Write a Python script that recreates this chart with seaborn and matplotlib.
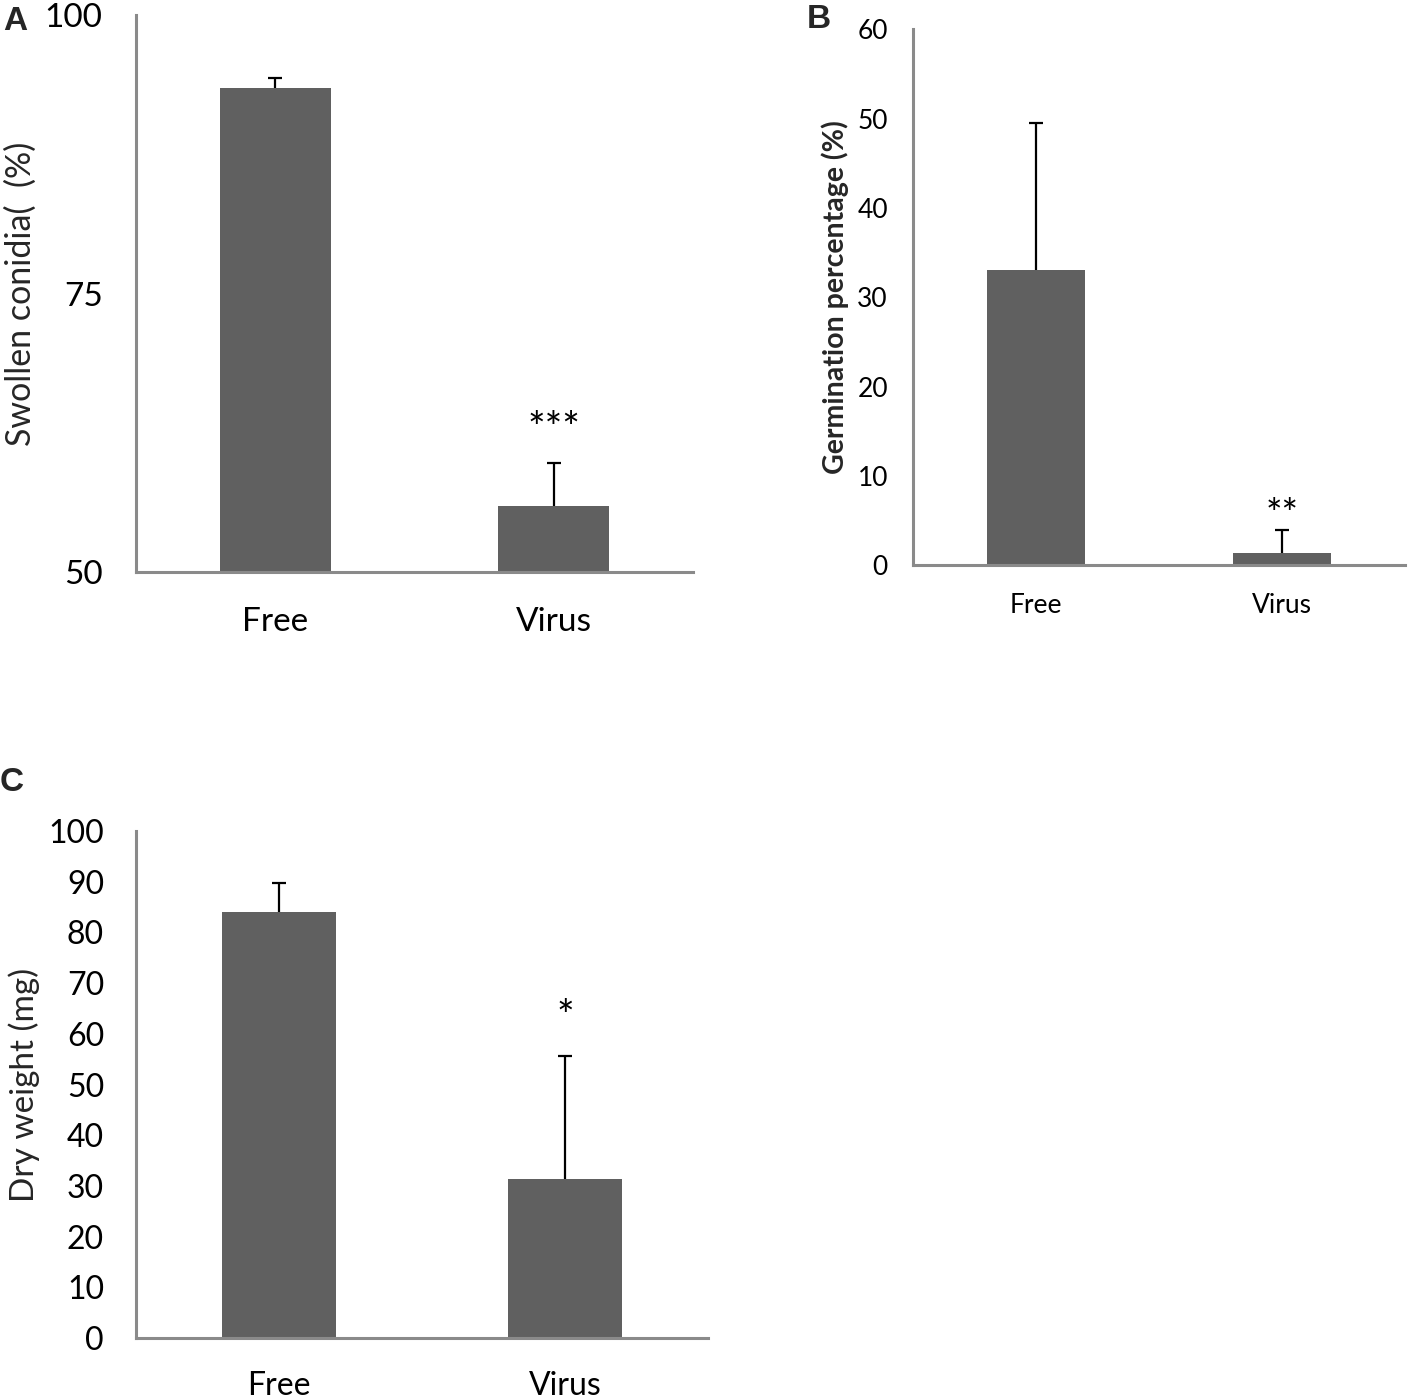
import numpy as np
import pandas as pd
import matplotlib
matplotlib.use("Agg")
import matplotlib.pyplot as plt
import seaborn as sns

# data
groups = ["Free", "Virus"]

swollen_mean = [93.5, 55.9]
swollen_err = [0.9, 3.9]
swollen_sig = ["", "***"]

germ_mean = [33.0, 1.4]
germ_err = [16.5, 2.5]
germ_sig = ["", "**"]

dry_mean = [84.0, 31.4]
dry_err = [5.7, 24.2]
dry_sig = ["", "*"]

sns.set_style("white")
plt.rcParams['font.family'] = ['Lato', 'DejaVu Sans']

bar_color = "#606060"
spine_color = "#8a8a8a"

fig = plt.figure(figsize=(14.08, 13.99), dpi=100)


def panel(rect, means, errs, sigs, ylim, yticks, ylabel, tick_fs, label_fs,
          label_bold, xtick_pad, ytick_pad, star_pad, star_fs):
    ax = fig.add_axes(rect)
    df = pd.DataFrame({"group": groups, "value": means})
    sns.barplot(data=df, x="group", y="value", color=bar_color, width=0.4,
                saturation=1, errorbar=None, ax=ax, linewidth=0)
    # upper-only error bars, hide the lower cap
    eb = ax.errorbar(range(len(groups)), means,
                     yerr=[np.zeros(len(errs)), errs],
                     fmt="none", ecolor="black", elinewidth=1.6, capsize=5,
                     capthick=1.6, zorder=3)
    eb[1][0].set_visible(False)
    for i, s in enumerate(sigs):
        if s:
            ax.text(i, means[i] + errs[i] + star_pad, s, ha="center",
                    va="center", fontsize=star_fs, color="black")
    ax.set_xlim(-0.5, 1.5)
    ax.set_ylim(*ylim)
    ax.set_yticks(yticks)
    ax.set_xlabel("")
    ax.set_ylabel(ylabel, fontsize=label_fs,
                  fontweight="bold" if label_bold else "normal", labelpad=6)
    ax.tick_params(axis="both", length=0, labelsize=tick_fs, colors="black")
    ax.tick_params(axis="x", pad=xtick_pad)
    ax.tick_params(axis="y", pad=ytick_pad)
    for side in ["top", "right"]:
        ax.spines[side].set_visible(False)
    for side in ["left", "bottom"]:
        ax.spines[side].set_color(spine_color)
        ax.spines[side].set_linewidth(2.2)
    return ax


axA = panel([0.0966, 0.591, 0.3956, 0.398], swollen_mean, swollen_err,
            swollen_sig, (50, 100), [50, 75, 100], "Swollen conidia(  (%)",
            24, 24.5, False, 25, 24, 3.0, 30)
axB = panel([0.6484, 0.596, 0.3494, 0.383], germ_mean, germ_err, germ_sig,
            (0, 60), list(range(0, 61, 10)), "Germination percentage (%)",
            19, 20.5, True, 20, 18, 1.6, 28)
axC = panel([0.0966, 0.0436, 0.4062, 0.3624], dry_mean, dry_err, dry_sig,
            (0, 100), list(range(0, 101, 10)), "Dry weight (mg)",
            23, 24, False, 24, 23, 7.5, 30)

fig.text(0.002, 0.996, "A", fontsize=24, fontweight="bold",
         family="Liberation Sans", va="top")
fig.text(0.573, 0.997, "B", fontsize=24, fontweight="bold",
         family="Liberation Sans", va="top")
fig.text(0.000, 0.452, "C", fontsize=24, fontweight="bold",
         family="Liberation Sans", va="top")

fig.savefig("out.png", dpi=100, facecolor="white")
